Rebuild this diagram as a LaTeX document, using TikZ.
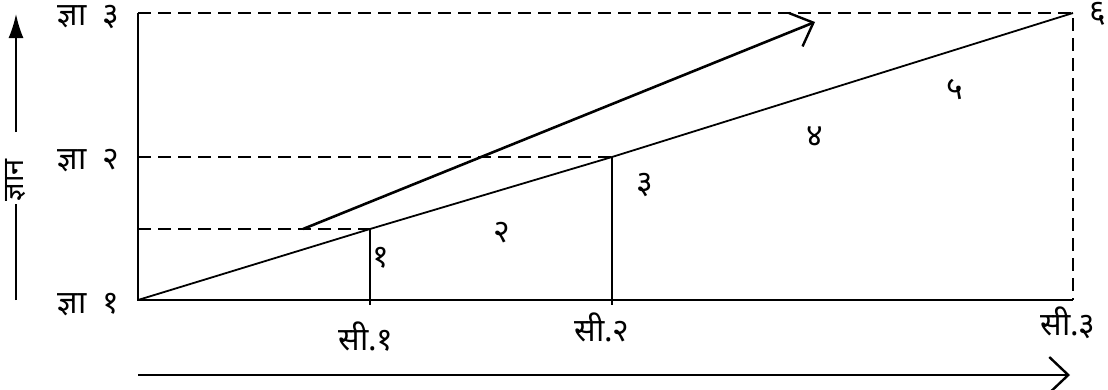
\documentclass[tikz,border=0pt]{standalone}
\usepackage{fontspec}
\newfontfamily\devfont[Script=Devanagari]{Noto Sans}
\usetikzlibrary{arrows.meta, positioning}

\begin{document}
\begin{tikzpicture}[x=1pt, y=-1pt, >=Latex, line width=1.8pt, font=\devfont\fontsize{32}{38}\selectfont]
    \tikzstyle{lbl} = [inner sep=0pt, anchor=center]
    \tikzstyle{guide} = [dash pattern=on 13pt off 7pt]
    \tikzstyle{openarrow} = [-{Straight Barb[length=19pt, width=36pt, line width=2.4pt]}, line width=2.6pt]
    \useasboundingbox (0,0) rectangle (1108,389);

    % corners of the frame and the steps of the line
    \coordinate (o) at (138,300);
    \coordinate (c1) at (370,300);
    \coordinate (c2) at (612,300);
    \coordinate (c3) at (1073,300);
    \coordinate (k1) at (138,229);
    \coordinate (k2) at (138,157);
    \coordinate (k3) at (138,13);
    \coordinate (p1) at (370,229);
    \coordinate (p2) at (612,157);
    \coordinate (p3) at (1073,13);
    \coordinate (t1) at (370,305);
    \coordinate (t2) at (612,305);

    % frame
    \draw (k3) -- (o) -- (c3);
    \draw [guide] (k3) -- (p3) -- (c3);
    \draw [guide] (k2) -- (p2);
    \draw [guide] (k1) -- (p1);

    % rising line with its verticals
    \draw (o) -- (p1) -- (p2) -- (p3);
    \draw (p1) -- (t1);
    \draw (p2) -- (t2);

    % steeper arrow
    \coordinate (a0) at (303,229);
    \coordinate (a1) at (815,22);
    \draw [openarrow] (a0) -- (a1);

    % left axis labels
    \node [lbl, anchor=east, left=18pt of k3, yshift=-4pt] (g3) {ज्ञा\hspace{16pt}३};
    \node [lbl, anchor=east, left=18pt of k2, yshift=-4pt] (g2) {ज्ञा\hspace{16pt}२};
    \node [lbl, anchor=east, left=18pt of o, yshift=-5pt] (g1) {ज्ञा\hspace{16pt}१};

    % bottom labels
    \node [lbl] (s1) at (366,337) {सी.१};
    \node [lbl] (s2) at (602,327) {सी.२};
    \node [lbl] (s3) at (1068,323) {सी.३};

    % numbers of the parts
    \node [lbl] (n1) at (381,258) {१};
    \node [lbl] (n2) at (502,233) {२};
    \node [lbl] (n3) at (645,185) {३};
    \node [lbl] (n4) at (815,137) {४};
    \node [lbl] (n5) at (955,90) {५};
    \node [lbl] (n6) at (1098,14) {६};

    % knowledge axis
    \node [lbl, rotate=90, inner xsep=2pt, font=\devfont\fontsize{29}{34}\selectfont] (knw) at (16,180) {ज्ञान};
    \coordinate (ybot) at (16,300);
    \coordinate (ytop) at (16,14);
    \draw (ybot) -- (knw.west);
    \draw [-{Latex[length=24pt, width=15pt]}] ([yshift=24pt]knw.east) -- (ytop);

    % time axis
    \coordinate (xl) at (138,375);
    \coordinate (xr) at (1070,375);
    \draw [openarrow] (xl) -- (xr);
\end{tikzpicture}
\end{document}
